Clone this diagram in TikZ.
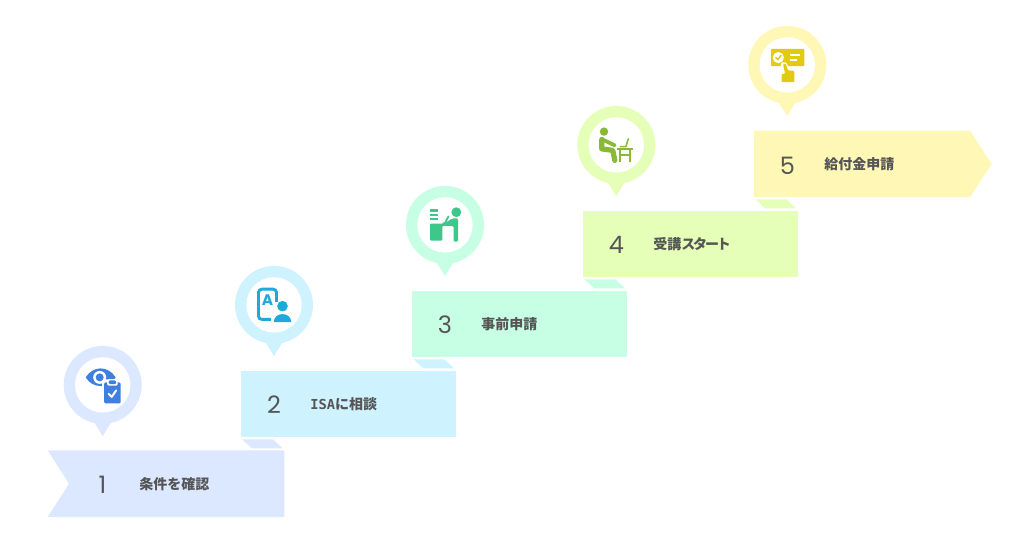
\documentclass[tikz,border=0pt]{standalone}
\usepackage{fontspec}
\setmainfont{Poppins}
\newfontfamily\cjkfont{Noto Sans CJK JP}
\newfontfamily\cjktight[LetterSpace=-15]{Noto Sans CJK JP}
\newfontfamily\slabfont{DejaVu Sans Mono}
\definecolor{cA}{HTML}{DCE8FF}\definecolor{cB}{HTML}{CFF2FF}\definecolor{cC}{HTML}{C6FFE4}\definecolor{cD}{HTML}{E5FFB8}\definecolor{cE}{HTML}{FFF7B5}
\definecolor{iA}{HTML}{3F7FE0}\definecolor{iB}{HTML}{1FA9DB}\definecolor{iC}{HTML}{3CC88A}\definecolor{iD}{HTML}{8AB93A}\definecolor{iE}{HTML}{E0CB10}
\definecolor{txt}{HTML}{555555}
\tikzset{
  numtext/.style={text=txt,font=\fontsize{18}{18}\selectfont,inner sep=0pt,anchor=center},
  labtext/.style={text=txt,font=\cjkfont\bfseries\fontsize{10.5}{12}\selectfont,inner sep=0pt,anchor=west},
  icoline/.style={line cap=round,line join=round},
}
\newcommand{\pinmark}[3]{%
  \fill[#3] (#1-10,#2+35) -- (#1+10,#2+35) -- (#1,#2+51.2) -- cycle;
  \fill[#3] (#1,#2) circle[radius=39];
  \fill[white] (#1,#2) circle[radius=27.7];
}
\newcommand{\steptab}[3]{\fill[#3] (#1,#2) -- (#1+30.7,#2) -- (#1+40.5,#2+9) -- (#1+9.7,#2+9) -- cycle;}
\begin{document}
\begin{tikzpicture}[x=0.75pt,y=-0.75pt]
\useasboundingbox (0,0) rectangle (1024,538);
% boxes
\fill[cA] (47.7,450.3) -- (284.3,450.3) -- (284.3,517) -- (47.7,517) -- (69,483.7) -- cycle;
\fill[cB] (240.5,370.6) rectangle (455.5,437.2);
\fill[cC] (411.7,290.6) rectangle (627,357.2);
\fill[cD] (583,210.6) rectangle (798,277.2);
\fill[cE] (754,130.6) -- (970,130.6) -- (991.7,164) -- (970,197.2) -- (754,197.2) -- cycle;
% tabs
\steptab{242}{439.3}{cA}
\steptab{413.5}{359.3}{cB}
\steptab{584.5}{279.3}{cC}
\steptab{755.5}{199.3}{cD}
% pins
\pinmark{102.7}{384.9}{cA}
\pinmark{274}{304.9}{cB}
\pinmark{445}{224.9}{cC}
\pinmark{616.3}{144.9}{cD}
\pinmark{787.3}{64.9}{cE}
% texts
\node[numtext] (num1) at (102.5,485) {1};
\node[numtext] (num2) at (274,405) {2};
\node[numtext] (num3) at (445,325) {3};
\node[numtext] (num4) at (616.5,245) {4};
\node[numtext] (num5) at (787.5,165.5) {5};
\node[labtext] (lab1) at (139,484.5) {条件を確認};
\node[labtext] (lab2) at (310,404.5) {{\slabfont\bfseries\fontsize{10.3}{12}\selectfont ISA}に相談};
\node[labtext] (lab3) at (481,324.5) {事前申請};
\node[labtext] (lab4) at (653,244.5) {受講{\cjktight\bfseries スタート}};
\node[labtext] (lab5) at (824,164.5) {給付金申請};
% icon 1
\begin{scope}[shift={(102.7,384.9)}]
  \fill[iA] (-17,-7.5) .. controls (-10,-19) and (5,-20) .. (13,-7.5) .. controls (5,4) and (-10,4) .. (-17,-7.5) -- cycle;
  \fill[white] (-3,-7.5) circle[radius=6.5];
  \fill[iA] (-3,-7.5) circle[radius=4];
  \fill[white,rounded corners=1pt] (-0.5,-5.5) rectangle (20,20);
  \fill[iA,rounded corners=1pt] (1.5,-2.5) rectangle (18,18.5);
  \fill[white,rounded corners=1pt] (4.5,-5.5) rectangle (15,0.8);
  \fill[iA,rounded corners=1pt] (6,-4.5) rectangle (13.5,-0.7);
  \draw[white,line width=1.5pt,icoline] (6,9) -- (9,12) -- (13.5,5.5);
\end{scope}
% icon 2
\begin{scope}[shift={(274,304.9)}]
  \draw[iB,line width=2.2pt,rounded corners=2.5pt] (2.5,-3) -- (2.5,-15.7) -- (-15.5,-15.7) -- (-15.5,14.5) -- (0,14.5);
  \node[text=iB,font=\bfseries\fontsize{11.5}{11.5}\selectfont,inner sep=0pt] (letA) at (-6.5,-5) {A};
  \fill[iB] (8.5,1.3) circle[radius=5.3];
  \fill[white] (-3,19) -- (-3,12) .. controls (0,5) and (17,5) .. (20,12) -- (20,19) -- cycle;
  \fill[iB] (-0.3,17.3) .. controls (0,6.5) and (17,6.5) .. (17.3,17.3) -- cycle;
\end{scope}
% icon 3
\begin{scope}[shift={(445,224.9)}]
  \fill[iC] (-14.7,-15.5) rectangle (-7,-13.3);
  \fill[iC] (-14.7,-11.2) rectangle (-7,-9);
  \fill[iC] (-14.7,-7) rectangle (-7,-4.8);
  \fill[iC,rounded corners=0.7pt] (-15,-1.2) -- (-1,-1.2) -- (-1,1) -- (-2.7,1) -- (-2.7,15.7) -- (-15,15.7) -- cycle;
  \fill[iC] (11.3,-12.7) circle[radius=4.9];
  \fill[iC,rounded corners=1pt] (-3,1) -- (-3,-2) -- (4,-4) -- (7,-6.5) -- (13,-6.5) -- (13,16.7) -- (8.5,16.7) -- (8.5,1) -- cycle;
  \draw[iC,line width=1.3pt,icoline] (0.5,-3) -- (3.5,-8.5);
\end{scope}
% icon 4
\begin{scope}[shift={(616.3,144.9)}]
  \fill[iD] (-12.3,-13.3) circle[radius=4.2];
  \draw[iD,line width=3.9pt,icoline] (-14.5,-5.5) -- (-14.5,4) -- (-3.5,5.5) -- (-1.5,15.5);
  \draw[iD,line width=2.8pt,icoline] (-14,-5.5) -- (-1.5,0.5);
  \fill[iD] (1,3) rectangle (16.5,5.2);
  \draw[iD,line width=1.4pt] (3.5,5) -- (3.5,17.5) (13.8,5) -- (13.8,17.5) (3.5,10) -- (13.8,10);
  \draw[iD,line width=1.2pt,icoline] (12,-6) -- (9.5,1.8) -- (4,1.8);
\end{scope}
% icon 5
\begin{scope}[shift={(787.3,64.9)}]
  \fill[iE,rounded corners=0.7pt] (-16.3,-16) rectangle (17,1.3);
  \fill[white] (-9,-7.3) circle[radius=5.6];
  \draw[iE,line width=1.1pt,icoline] (-11.5,-7.3) -- (-9.4,-5.3) -- (-6.3,-9.5);
  \fill[white] (2.7,-11) rectangle (12.7,-9);
  \fill[white] (2.7,-6.2) rectangle (9.5,-4.2);
  \fill[white,rounded corners=1pt] (-6.5,1.3) -- (-6.5,-2.5) -- (-1,-2.5) -- (1.5,3) -- (9,3.5) -- (9,8) -- (-6.5,8) -- cycle;
  \fill[iE,rounded corners=0.7pt] (-4.3,-0.7) -- (-1.7,-1.3) -- (0.7,5.5) -- (7,6) -- (7,17.3) -- (-5.7,17.3) -- (-5.7,9) -- (-2.2,9) -- cycle;
\end{scope}
\end{tikzpicture}
\end{document}
